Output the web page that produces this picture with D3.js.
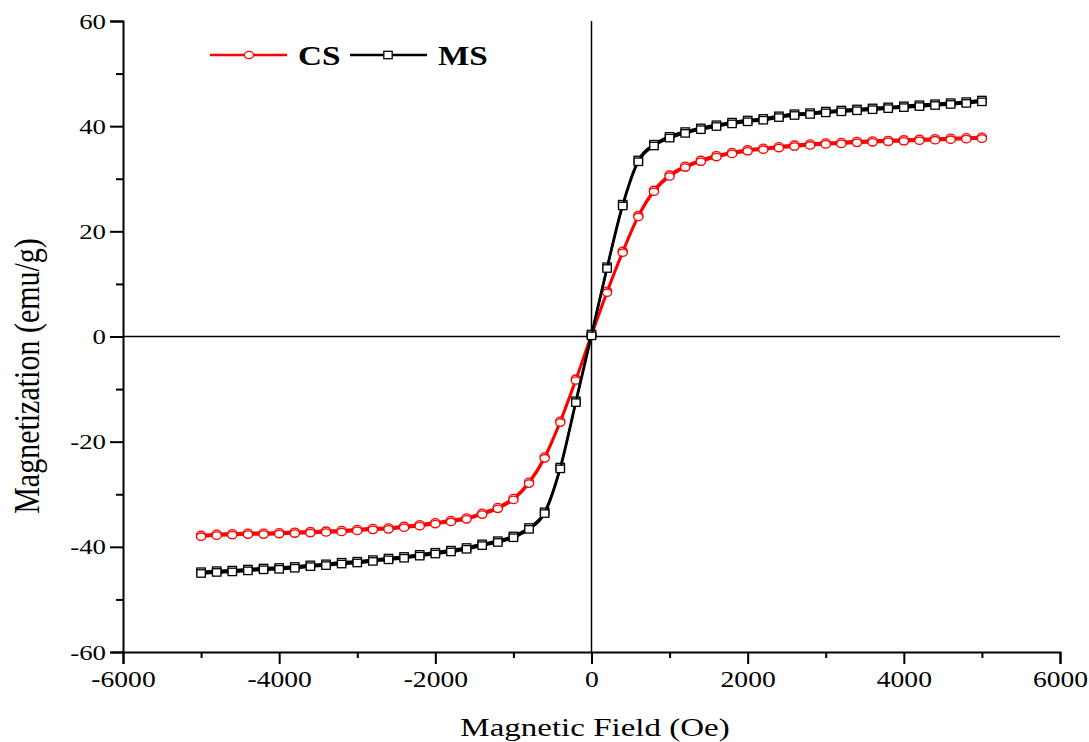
<!DOCTYPE html>
<html><head><meta charset="utf-8">
<script src="https://cdn.jsdelivr.net/npm/d3@7"></script>
<style>body{margin:0;background:#fff}svg{display:block}</style>
</head><body>
<svg id="chart" width="1089" height="742"></svg>
<script>
const fieldOe = [-5000,-4800,-4600,-4400,-4200,-4000,-3800,-3600,-3400,-3200,-3000,-2800,-2600,-2400,-2200,-2000,-1800,-1600,-1400,-1200,-1000,-800,-600,-400,-200,0,200,400,600,800,1000,1200,1400,1600,1800,2000,2200,2400,2600,2800,3000,3200,3400,3600,3800,4000,4200,4400,4600,4800,5000];
const csValues = [-37.9,-37.7,-37.6,-37.5,-37.5,-37.4,-37.3,-37.2,-37.1,-37.0,-36.8,-36.6,-36.5,-36.2,-35.9,-35.5,-35.1,-34.6,-33.7,-32.6,-30.9,-27.8,-23.0,-16.2,-8.2,0.3,8.5,16.1,22.9,27.7,30.6,32.3,33.4,34.3,34.9,35.4,35.7,36.0,36.3,36.5,36.7,36.8,37.0,37.1,37.2,37.3,37.4,37.5,37.6,37.7,37.8];
const msValues = [-44.9,-44.7,-44.6,-44.4,-44.2,-44.1,-43.9,-43.6,-43.4,-43.1,-42.9,-42.6,-42.3,-42.0,-41.6,-41.2,-40.8,-40.3,-39.6,-39.0,-38.1,-36.5,-33.5,-25.0,-12.4,0.3,13.1,25.0,33.4,36.4,37.9,38.8,39.5,40.1,40.6,41.0,41.3,41.8,42.2,42.4,42.7,42.9,43.1,43.3,43.5,43.7,43.9,44.1,44.3,44.5,44.8];
const xTicks = [-6000,-4000,-2000,0,2000,4000,6000];
const yTicks = [-60,-40,-20,0,20,40,60];
const seriesNames = ["CS","MS"];
const seriesColors = ["#ff0000","#000000"];

const svg = d3.select("#chart");
const m = {l:123, r:1060, t:21, b:652};
const x = d3.scaleLinear().domain([-6000,6000]).range([m.l, m.r]);
const y = d3.scaleLinear().domain([-60,60]).range([m.b, m.t]);
const font = "'Liberation Serif','Times New Roman',serif";

// crosshair lines
svg.append("line").attr("x1",x(0)).attr("x2",x(0)).attr("y1",m.t).attr("y2",m.b).attr("stroke","#000").attr("stroke-width",1.5);
svg.append("line").attr("x1",m.l).attr("x2",m.r).attr("y1",y(0)).attr("y2",y(0)).attr("stroke","#000").attr("stroke-width",1.5);

// axes
const fmt = d => String(d);
const xAxis = svg.append("g").attr("transform",`translate(0,${m.b})`)
  .call(d3.axisBottom(x).tickValues(xTicks).tickSize(12).tickPadding(7).tickFormat(fmt));
const xMinor = svg.append("g").attr("transform",`translate(0,${m.b})`)
  .call(d3.axisBottom(x).tickValues(d3.range(-5000,6000,2000)).tickSize(6).tickFormat(""));
const yAxis = svg.append("g").attr("transform",`translate(${m.l},0)`)
  .call(d3.axisLeft(y).tickValues(yTicks).tickSize(13).tickPadding(4).tickFormat(fmt));
const yMinor = svg.append("g").attr("transform",`translate(${m.l},0)`)
  .call(d3.axisLeft(y).tickValues(d3.range(-50,60,20)).tickSize(7).tickFormat(""));
[xAxis,xMinor,yAxis,yMinor].forEach(g=>{
  g.select(".domain").attr("stroke","#000").attr("stroke-width",2);
  g.selectAll(".tick line").attr("stroke","#000").attr("stroke-width",2);
  g.selectAll(".tick text").attr("font-family",font).attr("fill","#000");
});
xMinor.select(".domain").remove(); yMinor.select(".domain").remove();
xAxis.selectAll(".tick text").attr("font-size",23).attr("transform","scale(1.2,1)");
const ySx = 1.22;
yAxis.selectAll(".tick text").attr("font-size",22).attr("x",-17/ySx).attr("transform",`scale(${ySx},1)`);

// axis titles
svg.append("text").attr("transform","translate(595,736) scale(1.32,1)").attr("text-anchor","middle")
  .attr("font-family",font).attr("font-size",25).text("Magnetic Field (Oe)");
svg.append("text").attr("transform",`translate(39,376) scale(1.22,1) rotate(-90)`).attr("text-anchor","middle")
  .attr("font-family",font).attr("font-size",30).text("Magnetization (emu/g)");

// series
const line = d3.line().x((d,i)=>x(fieldOe[i])).y(d=>y(d)).curve(d3.curveMonotoneX);
const allSeries = [csValues, msValues];
allSeries.forEach((vals,k)=>{
  const col = seriesColors[k];
  [-0.9,0.9].forEach(off=>{
    const g = svg.append("g").attr("transform",`translate(0,${off})`);
    g.append("path").datum(vals).attr("d",line).attr("fill","none").attr("stroke",col).attr("stroke-width",2.4);
    if(k===0){
      g.selectAll("ellipse").data(vals).join("ellipse").attr("cx",(d,i)=>x(fieldOe[i])).attr("cy",d=>y(d))
        .attr("rx",4.6).attr("ry",3.7).attr("fill","#fff").attr("stroke",col).attr("stroke-width",1.3);
    } else {
      g.selectAll("rect").data(vals).join("rect").attr("x",(d,i)=>x(fieldOe[i])-4.2).attr("y",d=>y(d)-3.7)
        .attr("width",8.4).attr("height",7.4).attr("fill","#fff").attr("stroke",col).attr("stroke-width",1.3);
    }
  });
});

// legend
const lg = svg.append("g");
const legendX = [210, 350];
seriesNames.forEach((name,k)=>{
  const lx = legendX[k], ly = 55, col = seriesColors[k];
  lg.append("line").attr("x1",lx).attr("x2",lx+77).attr("y1",ly).attr("y2",ly).attr("stroke",col).attr("stroke-width",2.4);
  if(k===0) lg.append("ellipse").attr("cx",lx+39).attr("cy",ly).attr("rx",4.6).attr("ry",3.7).attr("fill","#fff").attr("stroke",col).attr("stroke-width",1.3);
  else lg.append("rect").attr("x",lx+38-4.2).attr("y",ly-3.7).attr("width",8.4).attr("height",7.4).attr("fill","#fff").attr("stroke",col).attr("stroke-width",1.3);
  lg.append("text").attr("transform",`translate(${lx+88},${ly+10}) scale(1.23,1)`).attr("font-family",font)
    .attr("font-weight","bold").attr("font-size",27).text(name);
});
</script>
</body></html>
